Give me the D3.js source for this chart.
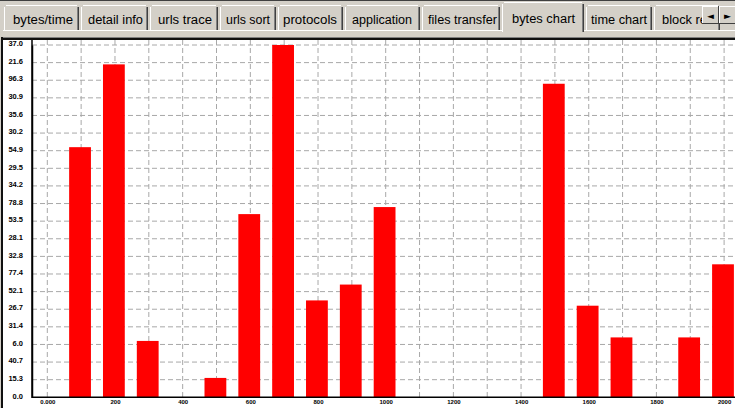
<!DOCTYPE html>
<html>
<head>
<meta charset="utf-8">
<script src="https://cdn.jsdelivr.net/npm/d3@7"></script>
<style>
  html, body { margin: 0; padding: 0; background: #d4d0c8; }
  svg { display: block; }
</style>
</head>
<body>
<svg id="chart" width="735" height="408"></svg>
<script>
// Tab strip captions
const tabNames = ["bytes/time", "detail info", "urls trace", "urls sort", "protocols",
                  "application", "files transfer", "bytes chart", "time chart", "block re"];
const activeTab = "bytes chart";

// Y axis labels (bottom to top) and X axis labels (every second bin)
const yTickLabels = ["0.0", "15.3", "40.7", "6.0", "31.4", "26.7", "52.1", "77.4", "32.8", "28.1",
                     "53.5", "78.8", "34.2", "29.5", "54.9", "30.2", "35.6", "30.9", "96.3", "21.6", "37.0"];
const xTickLabels = ["0.000", "200", "400", "600", "800", "1000", "1200", "1400", "1600", "1800", "2000"];

// Bytes per bin, in grid units
const binIndex = d3.range(21);
const binBytes = [0, 14.2, 18.9, 3.2, 0, 1.1, 10.4, 20.0, 5.5, 6.4, 10.8,
                  0, 0, 0, 0, 17.8, 5.2, 3.4, 0, 3.4, 7.55];

const W = 735, H = 408;
const svg = d3.select("#chart");
const FACE = "#d4d0c8", SHADOW = "#808080", DARK = "#404040", LIGHT = "#ffffff";

// ---------- window chrome: tab strip ----------
svg.append("rect").attr("x", 0).attr("y", 0).attr("width", W).attr("height", 40).attr("fill", FACE);
svg.append("rect").attr("x", 0).attr("y", 0).attr("width", W).attr("height", 1).attr("fill", DARK);

const tabLeft  = [4, 81, 150, 220, 278, 345, 422, 502, 586, 654];
const tabRight = [79, 148, 218, 276, 343, 420, 500, 584, 652, 720];
const textX    = [13, 88, 158, 226, 283, 352, 428, 512, 591, 662];
const textW    = [60, 55, 54, 44, 54, 60, 69, 63, 56, 45];

const tabs = svg.append("g").attr("font-family", "'Liberation Sans', Arial, sans-serif")
  .attr("font-size", 12.5).attr("fill", "#000");

tabNames.forEach((name, i) => {
  const active = name === activeTab;
  const top = active ? 2 : 5;
  const bottom = active ? 32 : 30;
  const l = tabLeft[i], r = tabRight[i];
  const g = tabs.append("g");
  g.append("rect").attr("x", l).attr("y", top).attr("width", r - l).attr("height", bottom - top).attr("fill", FACE);
  g.append("rect").attr("x", l).attr("y", top + 2).attr("width", 1).attr("height", bottom - top - 2).attr("fill", LIGHT);
  g.append("rect").attr("x", l + 2).attr("y", top).attr("width", r - l - 4).attr("height", 1).attr("fill", LIGHT);
  g.append("rect").attr("x", r - 2).attr("y", top + 2).attr("width", 1).attr("height", bottom - top - 2).attr("fill", SHADOW);
  g.append("rect").attr("x", r - 1).attr("y", top + 2).attr("width", 1).attr("height", bottom - top - 2).attr("fill", DARK);
  g.append("text").attr("x", textX[i]).attr("y", active ? 23 : 24)
    .attr("textLength", textW[i]).attr("lengthAdjust", "spacingAndGlyphs").text(name);
});

// panel top edge (open under the active tab)
svg.append("rect").attr("x", 0).attr("y", 30).attr("width", 502).attr("height", 1).attr("fill", LIGHT);
svg.append("rect").attr("x", 584).attr("y", 30).attr("width", W - 584).attr("height", 1).attr("fill", LIGHT);

// scroll arrows at the right of the tab strip
[[702, "◄"], [719, "►"]].forEach(([bx, glyph]) => {
  const g = svg.append("g");
  g.append("rect").attr("x", bx).attr("y", 6).attr("width", 17).attr("height", 18).attr("fill", FACE);
  g.append("rect").attr("x", bx).attr("y", 6).attr("width", 17).attr("height", 1).attr("fill", LIGHT);
  g.append("rect").attr("x", bx).attr("y", 6).attr("width", 1).attr("height", 18).attr("fill", LIGHT);
  g.append("rect").attr("x", bx + 16).attr("y", 6).attr("width", 1).attr("height", 18).attr("fill", DARK);
  g.append("rect").attr("x", bx).attr("y", 23).attr("width", 17).attr("height", 1).attr("fill", DARK);
  g.append("text").attr("x", bx + 8.5).attr("y", 19).attr("text-anchor", "middle")
    .attr("font-family", "'DejaVu Sans', sans-serif").attr("font-size", 9).attr("fill", "#000").text(glyph);
});

// sunken border of the chart panel
svg.append("rect").attr("x", 0).attr("y", 37).attr("width", W).attr("height", 1).attr("fill", SHADOW);
svg.append("rect").attr("x", 0).attr("y", 38).attr("width", W).attr("height", 2).attr("fill", "#101010");

// ---------- chart panel ----------
svg.append("rect").attr("x", 3).attr("y", 40).attr("width", W - 3).attr("height", H - 40).attr("fill", "#fff");
svg.append("rect").attr("x", 0).attr("y", 30).attr("width", 3).attr("height", H - 30).attr("fill", FACE);
svg.append("rect").attr("x", 1).attr("y", 37).attr("width", 2).attr("height", H - 37).attr("fill", "#101010");

const x = d3.scaleLinear().domain([0, 20]).range([47.3, 724.1]);
const y = d3.scaleLinear().domain([0, 20]).range([397.3, 45]);
const axisX0 = 32;

svg.append("clipPath").attr("id", "panel")
  .append("rect").attr("x", 3).attr("y", 40).attr("width", W - 3).attr("height", H - 40);

const plot = svg.append("g").attr("clip-path", "url(#panel)");

// dashed grid
plot.append("g").selectAll("line.h").data(d3.range(1, 21)).join("line")
  .attr("x1", axisX0).attr("x2", W)
  .attr("y1", d => y(d)).attr("y2", d => y(d))
  .attr("stroke", "#a8a8a8").attr("stroke-width", 1).attr("stroke-dasharray", "5,3");
plot.append("g").selectAll("line.v").data(binIndex).join("line")
  .attr("x1", d => x(d)).attr("x2", d => x(d))
  .attr("y1", 40).attr("y2", y(0))
  .attr("stroke", "#a8a8a8").attr("stroke-width", 1).attr("stroke-dasharray", "5,3");

// bars
const barW = 21.8;
plot.append("g").selectAll("rect").data(binIndex.filter(i => binBytes[i] > 0)).join("rect")
  .attr("x", i => x(i) - 12)
  .attr("y", i => y(binBytes[i]))
  .attr("width", barW)
  .attr("height", i => y(0) - y(binBytes[i]))
  .attr("fill", "#ff0000");

// y axis
const yAxis = d3.axisLeft(y).tickValues(d3.range(21))
  .tickFormat(i => yTickLabels[i]).tickSize(0).tickPadding(9);
const gy = plot.append("g").attr("transform", `translate(${axisX0},0)`).call(yAxis);
gy.select(".domain").attr("stroke", "#000").attr("stroke-width", 1.5);
gy.selectAll("text").attr("font-family", "'Liberation Sans', Arial, sans-serif")
  .attr("font-size", 7.5).attr("font-weight", "bold").attr("fill", "#000").attr("dy", "0.1em");

// x axis
const xAxis = d3.axisBottom(x).tickValues(d3.range(0, 21, 2))
  .tickFormat(d => xTickLabels[d / 2]).tickSize(0).tickPadding(2);
const gx = plot.append("g").attr("transform", `translate(0,${y(0)})`).call(xAxis);
gx.select(".domain").remove();
gx.selectAll("text").attr("font-family", "'Liberation Sans', Arial, sans-serif")
  .attr("font-size", 6).attr("font-weight", "bold").attr("fill", "#000");
plot.append("line").attr("x1", axisX0).attr("x2", W).attr("y1", y(0)).attr("y2", y(0))
  .attr("stroke", "#000").attr("stroke-width", 1.5);
plot.append("line").attr("x1", axisX0).attr("x2", axisX0).attr("y1", 40).attr("y2", y(0) + 0.75)
  .attr("stroke", "#000").attr("stroke-width", 1.5);
</script>
</body>
</html>
